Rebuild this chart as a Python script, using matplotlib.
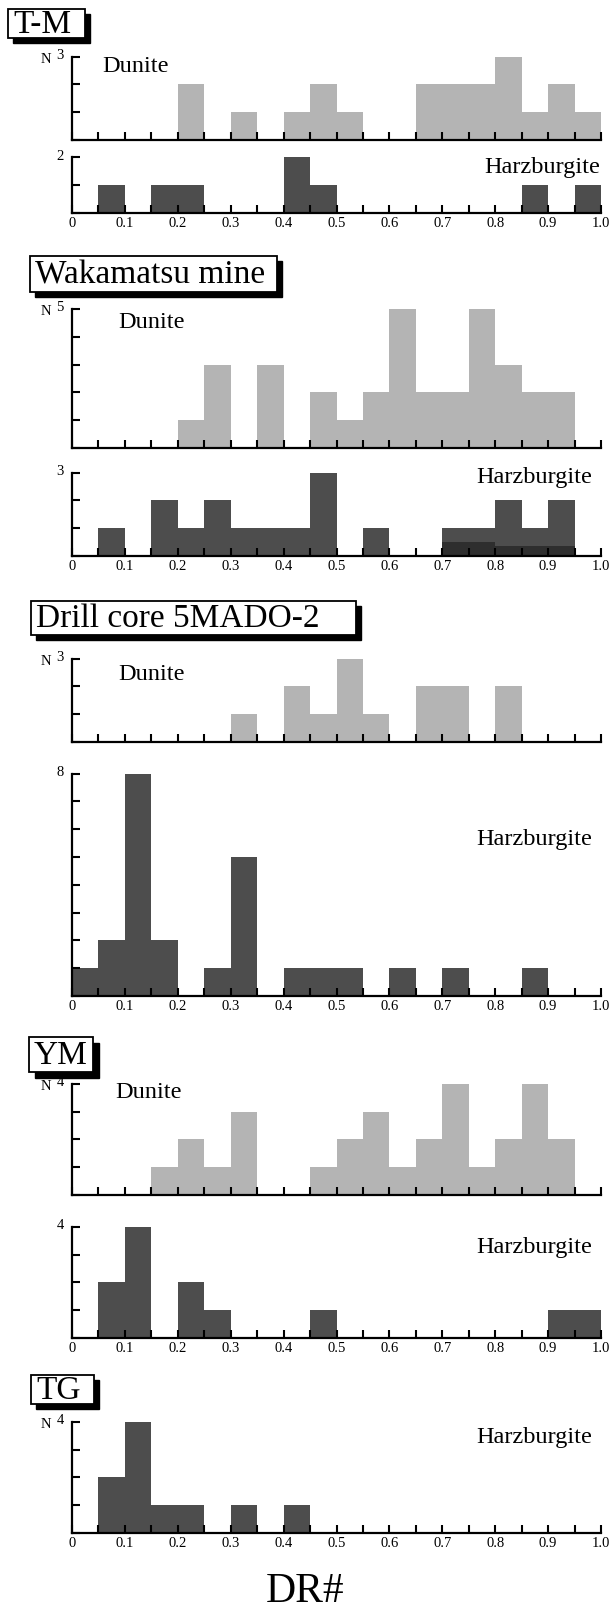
import numpy as np
import matplotlib
matplotlib.use("Agg")
import matplotlib.pyplot as plt
from matplotlib.patches import Rectangle

plt.rcParams['font.family'] = ['Liberation Serif', 'DejaVu Serif']

# ---------------- data (counts per 0.05 DR# bin, 0.00-1.00) ----------------
bin_edges = [round(0.05 * i, 2) for i in range(20)]
x_tick_labels = ["0", "0.1", "0.2", "0.3", "0.4", "0.5", "0.6", "0.7", "0.8", "0.9", "1.0"]

tm_dunite = [0, 0, 0, 0, 2, 0, 1, 0, 1, 2, 1, 0, 0, 2, 2, 2, 3, 1, 2, 1]
tm_harz = [0, 1, 0, 1, 1, 0, 0, 0, 2, 1, 0, 0, 0, 0, 0, 0, 0, 1, 0, 1]

wk_dunite = [0, 0, 0, 0, 1, 3, 0, 3, 0, 2, 1, 2, 5, 2, 2, 5, 3, 2, 2, 0]
wk_harz = [0, 1, 0, 2, 1, 2, 1, 1, 1, 3, 0, 1, 0, 0, 1, 1, 2, 1, 2, 0]
wk_harz_dark = [0, 0, 0, 0, 0, 0, 0, 0, 0, 0, 0, 0, 0, 0, 0.5, 0.5, 0.35, 0.35, 0.35, 0]

dc_dunite = [0, 0, 0, 0, 0, 0, 1, 0, 2, 1, 3, 1, 0, 2, 2, 0, 2, 0, 0, 0]
dc_harz = [1, 2, 8, 2, 0, 1, 5, 0, 1, 1, 1, 0, 1, 0, 1, 0, 0, 1, 0, 0]

ym_dunite = [0, 0, 0, 1, 2, 1, 3, 0, 0, 1, 2, 3, 1, 2, 4, 1, 2, 4, 2, 0]
ym_harz = [0, 2, 4, 0, 2, 1, 0, 0, 0, 1, 0, 0, 0, 0, 0, 0, 0, 0, 1, 1]

tg_harz = [0, 2, 4, 1, 1, 0, 1, 0, 1, 0, 0, 0, 0, 0, 0, 0, 0, 0, 0, 0]

locality_titles = ["T-M", "Wakamatsu mine", "Drill core 5MADO-2", "YM", "TG"]

# ---------------- layout ----------------
W, H = 613, 1614
fig = plt.figure(figsize=(W / 100, H / 100), dpi=100)
fig.patch.set_facecolor("white")

X0, X1 = 72, 601
UNIT = 27.8
DUN_COLOR = "#b4b4b4"
HARZ_COLOR = "#4d4d4d"
DARK_COLOR = "#2e2e2e"


def fx(px):
    return px / W


def fy(py):
    return 1 - py / H


def make_axes(ybase, ymax, show_xlabels, n_label=False):
    h = ymax * UNIT
    ax = fig.add_axes([fx(X0), fy(ybase), (X1 - X0) / W, h / H])
    ax.set_xlim(0, 1.0)
    ax.set_ylim(0, ymax)
    ax.patch.set_alpha(0)
    for s in ("top", "right"):
        ax.spines[s].set_visible(False)
    for s in ("left", "bottom"):
        ax.spines[s].set_linewidth(1.6)
    ax.set_yticks(range(0, ymax + 1))
    ax.set_yticklabels([])
    xt = [round(0.05 * i, 2) for i in range(21)]
    ax.set_xticks(xt)
    if show_xlabels:
        labs = []
        for i in range(21):
            labs.append(x_tick_labels[i // 2] if i % 2 == 0 else "")
        ax.set_xticklabels(labs, fontsize=10.5)
    else:
        ax.set_xticklabels([])
    ax.tick_params(axis="x", direction="in", length=5.5, width=1.5, pad=3)
    ax.tick_params(axis="y", direction="in", length=6, width=1.5)
    # top y label
    ax.annotate(str(ymax), xy=(0, ymax), xycoords=("axes fraction", "data"),
                xytext=(-6, 1), textcoords="offset points", ha="right", va="center",
                fontsize=10.5)
    if n_label:
        ax.annotate("N", xy=(0, ymax), xycoords=("axes fraction", "data"),
                    xytext=(-15, -2), textcoords="offset points", ha="right", va="center",
                    fontsize=10.5)
    return ax


def draw_bars(ax, values, color):
    ax.bar(bin_edges, values, width=0.05, align="edge", color=color,
           edgecolor="none", linewidth=0, zorder=1)


def title_box(text, x0, y0, x1, y1, sh=5):
    fig.patches.append(Rectangle((fx(x0 + sh), fy(y1 + sh)), (x1 - x0) / W, (y1 - y0) / H,
                                 transform=fig.transFigure, facecolor="black",
                                 edgecolor="black", zorder=5))
    fig.patches.append(Rectangle((fx(x0), fy(y1)), (x1 - x0) / W, (y1 - y0) / H,
                                 transform=fig.transFigure, facecolor="white",
                                 edgecolor="black", linewidth=1.3, zorder=6))
    fig.text(fx(x0 + 5), fy((y0 + y1) / 2 + 1), text, fontsize=24, ha="left", va="center",
             zorder=7)


def label(text, x, y, ha="left"):
    fig.text(fx(x), fy(y), text, fontsize=17.5, ha=ha, va="center")


# ---------------- T-M ----------------
title_box(locality_titles[0], 8, 9, 85, 38)
ax = make_axes(140, 3, False, n_label=True)
draw_bars(ax, tm_dunite, DUN_COLOR)
ax = make_axes(213, 2, True)
draw_bars(ax, tm_harz, HARZ_COLOR)
label("Dunite", 102, 66)
label("Harzburgite", 600, 167, ha="right")

# ---------------- Wakamatsu mine ----------------
title_box(locality_titles[1], 30, 256, 277, 292)
ax = make_axes(448, 5, False, n_label=True)
draw_bars(ax, wk_dunite, DUN_COLOR)
ax = make_axes(556, 3, True)
draw_bars(ax, wk_harz, HARZ_COLOR)
draw_bars(ax, wk_harz_dark, DARK_COLOR)
label("Dunite", 118, 322)
label("Harzburgite", 592, 478, ha="right")

# ---------------- Drill core ----------------
title_box(locality_titles[2], 31, 601, 356, 635)
ax = make_axes(742, 3, False, n_label=True)
draw_bars(ax, dc_dunite, DUN_COLOR)
ax = make_axes(996, 8, True)
draw_bars(ax, dc_harz, HARZ_COLOR)
label("Dunite", 118, 675)
label("Harzburgite", 592, 840, ha="right")

# ---------------- YM ----------------
title_box(locality_titles[3], 29, 1037, 93, 1072, sh=6)
ax = make_axes(1195, 4, False, n_label=True)
draw_bars(ax, ym_dunite, DUN_COLOR)
ax = make_axes(1338, 4, True)
draw_bars(ax, ym_harz, HARZ_COLOR)
label("Dunite", 115, 1093)
label("Harzburgite", 592, 1247, ha="right")

# ---------------- TG ----------------
title_box(locality_titles[4], 31, 1375, 94, 1404)
ax = make_axes(1533, 4, True, n_label=True)
draw_bars(ax, tg_harz, HARZ_COLOR)
label("Harzburgite", 592, 1438, ha="right")

fig.text(fx(305), fy(1592), "DR#", fontsize=30, ha="center", va="center")

fig.savefig("out.png", dpi=100, facecolor="white")
